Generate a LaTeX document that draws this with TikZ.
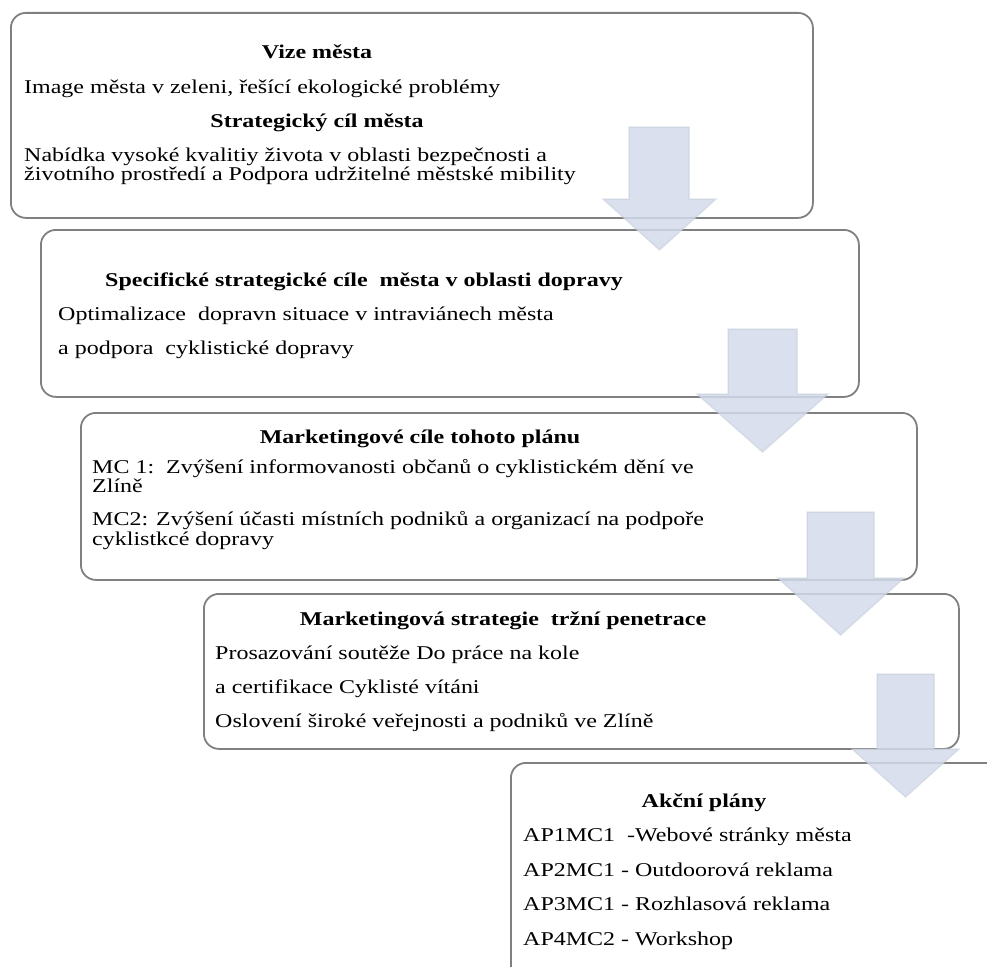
\documentclass[tikz,border=0pt]{standalone}
\usepackage{fontspec}
\setmainfont[FakeStretch=1.23]{Liberation Serif}
\definecolor{rahmen}{RGB}{128,128,128}
\definecolor{pfeilblau}{RGB}{211,219,234}
\tikzset{
	kasten/.style={draw=rahmen, line width=1.8pt, rounded corners=15pt, anchor=north west, inner sep=0pt},
	titel/.style={font=\fontsize{19.5}{20}\selectfont\bfseries, anchor=base, inner sep=0pt},
	zeile/.style={font=\fontsize{19.5}{20}\selectfont, anchor=base west, inner sep=0pt},
	pfeil/.style={fill=pfeilblau, fill opacity=0.85, draw=pfeilblau!85!gray, draw opacity=0.5, line width=1.5pt}
}
\begin{document}
\begin{tikzpicture}[x=1pt, y=-1pt]
		\useasboundingbox (0,0) rectangle (987,966);
		\clip (0,0) rectangle (987,966);
		
		\node[kasten, minimum width=802pt, minimum height=205pt] (box1) at (10,12) {};
		\node[titel] (vize) at (317,59) {Vize města};
		\node[zeile] (vizetext) at (24,93) {Image města v zeleni, řešící ekologické problémy};
		\node[titel] (cil) at (317,127) {Strategický cíl města};
		\node[zeile] (ciltext1) at (24,161) {Nabídka vysoké kvalitiy života v oblasti bezpečnosti a};
		\node[zeile] (ciltext2) at (24,180) {životního prostředí a Podpora udržitelné městské mibility};
		
		\node[kasten, minimum width=818pt, minimum height=167pt] (box2) at (40,229) {};
		\node[titel] (specif) at (364,286) {Specifické strategické cíle\ \ města v oblasti dopravy};
		\node[zeile] (specif1) at (58,320) {Optimalizace\ \ dopravn situace v intraviánech města};
		\node[zeile] (specif2) at (58,354) {a podpora\ \ cyklistické dopravy};
		
		\node[kasten, minimum width=836pt, minimum height=167pt] (box3) at (80,412) {};
		\node[titel] (mcile) at (420,443) {Marketingové cíle tohoto plánu};
		\node[zeile] (mc1a) at (92,473) {MC 1:\ \ Zvýšení informovanosti občanů o cyklistickém dění ve};
		\node[zeile] (mc1b) at (92,492) {Zlíně};
		\node[zeile] (mc2a) at (92,525) {MC2: Zvýšení účasti místních podniků a organizací na podpoře};
		\node[zeile] (mc2b) at (92,545) {cyklistkcé dopravy};
		
		\node[kasten, minimum width=755pt, minimum height=155pt] (box4) at (203,593) {};
		\node[titel] (strat) at (503,625) {Marketingová strategie\ \ tržní penetrace};
		\node[zeile] (strat1) at (215,659) {Prosazování soutěže Do práce na kole};
		\node[zeile] (strat2) at (215,693) {a certifikace Cyklisté vítáni};
		\node[zeile] (strat3) at (215,727) {Oslovení široké veřejnosti a podniků ve Zlíně};
		
		\node[kasten, minimum width=500pt, minimum height=230pt] (box5) at (510,762) {};
		\node[titel] (akce) at (704,807) {Akční plány};
		\node[zeile] (ap1) at (523,841) {AP1MC1\ \ -Webové stránky města};
		\node[zeile] (ap2) at (523,876) {AP2MC1 - Outdoorová reklama};
		\node[zeile] (ap3) at (523,910) {AP3MC1 - Rozhlasová reklama};
		\node[zeile] (ap4) at (523,945) {AP4MC2 - Workshop};
		
		\draw[pfeil] (629,127) -- (689,127) -- (689,199) -- (716,199) -- (659.5,250) -- (603,199) -- (629,199) -- cycle;
		\draw[pfeil] (728,329) -- (797,329) -- (797,394) -- (828,394) -- (762.5,452) -- (697,394) -- (728,394) -- cycle;
		\draw[pfeil] (807,512) -- (874,512) -- (874,578) -- (904,578) -- (840.5,635) -- (778,578) -- (807,578) -- cycle;
		\draw[pfeil] (877,674) -- (934,674) -- (934,749) -- (959,749) -- (905.5,797) -- (852,749) -- (877,749) -- cycle;
	\end{tikzpicture}
\end{document}
